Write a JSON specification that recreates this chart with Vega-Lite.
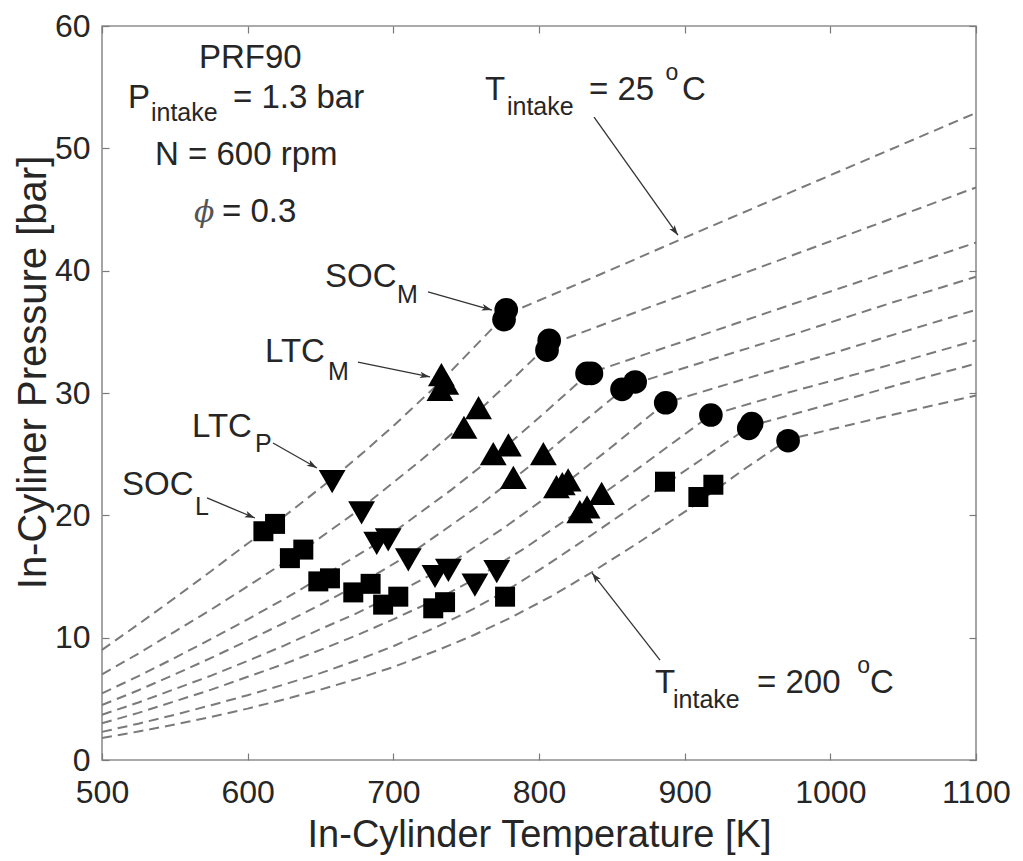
{
  "$schema": "https://vega.github.io/schema/vega-lite/v6.json",
  "width": 874,
  "height": 734,
  "autosize": {"type": "none"},
  "padding": {"left": 102, "top": 26, "right": 47, "bottom": 101},
  "background": "white",
  "config": {
    "view": {"stroke": "#8f8f8f", "strokeWidth": 1.6},
    "font": "Liberation Sans"
  },
  "datasets": {
    "curves": [
      {"curve": "25", "T": 500, "P": 9.0}, {"curve": "25", "T": 525, "P": 11.1}, {"curve": "25", "T": 550, "P": 13.25}, {"curve": "25", "T": 575, "P": 15.45}, {"curve": "25", "T": 600, "P": 17.7}, {"curve": "25", "T": 614, "P": 18.9}, {"curve": "25", "T": 640, "P": 21.3}, {"curve": "25", "T": 658, "P": 23.0}, {"curve": "25", "T": 680, "P": 25.2}, {"curve": "25", "T": 700, "P": 27.3}, {"curve": "25", "T": 734, "P": 31.1}, {"curve": "25", "T": 760, "P": 34.3}, {"curve": "25", "T": 777, "P": 36.4}, {"curve": "25", "T": 850, "P": 40.1}, {"curve": "25", "T": 900, "P": 42.7}, {"curve": "25", "T": 1000, "P": 47.8}, {"curve": "25", "T": 1100, "P": 52.9},
      {"curve": "50", "T": 500, "P": 7.0}, {"curve": "50", "T": 525, "P": 8.7}, {"curve": "50", "T": 550, "P": 10.5}, {"curve": "50", "T": 575, "P": 12.3}, {"curve": "50", "T": 600, "P": 14.2}, {"curve": "50", "T": 635, "P": 16.9}, {"curve": "50", "T": 677, "P": 20.5}, {"curve": "50", "T": 720, "P": 24.6}, {"curve": "50", "T": 760, "P": 28.7}, {"curve": "50", "T": 785, "P": 31.5}, {"curve": "50", "T": 806, "P": 33.9}, {"curve": "50", "T": 880, "P": 37.2}, {"curve": "50", "T": 950, "P": 40.2}, {"curve": "50", "T": 1025, "P": 43.5}, {"curve": "50", "T": 1100, "P": 46.8},
      {"curve": "75", "T": 500, "P": 5.45}, {"curve": "75", "T": 525, "P": 6.85}, {"curve": "75", "T": 550, "P": 8.35}, {"curve": "75", "T": 575, "P": 9.9}, {"curve": "75", "T": 600, "P": 11.5}, {"curve": "75", "T": 625, "P": 13.15}, {"curve": "75", "T": 650, "P": 14.9}, {"curve": "75", "T": 693, "P": 18.0}, {"curve": "75", "T": 740, "P": 22.1}, {"curve": "75", "T": 775, "P": 25.4}, {"curve": "75", "T": 805, "P": 28.5}, {"curve": "75", "T": 834, "P": 31.6}, {"curve": "75", "T": 900, "P": 34.25}, {"curve": "75", "T": 970, "P": 37.1}, {"curve": "75", "T": 1035, "P": 39.7}, {"curve": "75", "T": 1100, "P": 42.3},
      {"curve": "100", "T": 500, "P": 4.5}, {"curve": "100", "T": 525, "P": 5.7}, {"curve": "100", "T": 550, "P": 7.0}, {"curve": "100", "T": 575, "P": 8.35}, {"curve": "100", "T": 600, "P": 9.75}, {"curve": "100", "T": 625, "P": 11.2}, {"curve": "100", "T": 650, "P": 12.7}, {"curve": "100", "T": 677, "P": 14.4}, {"curve": "100", "T": 711, "P": 16.8}, {"curve": "100", "T": 735, "P": 18.8}, {"curve": "100", "T": 760, "P": 20.9}, {"curve": "100", "T": 803, "P": 24.9}, {"curve": "100", "T": 830, "P": 27.6}, {"curve": "100", "T": 861, "P": 30.6}, {"curve": "100", "T": 920, "P": 32.8}, {"curve": "100", "T": 980, "P": 35.0}, {"curve": "100", "T": 1040, "P": 37.3}, {"curve": "100", "T": 1100, "P": 39.5},
      {"curve": "125", "T": 500, "P": 3.7}, {"curve": "125", "T": 525, "P": 4.7}, {"curve": "125", "T": 550, "P": 5.8}, {"curve": "125", "T": 575, "P": 6.9}, {"curve": "125", "T": 600, "P": 8.1}, {"curve": "125", "T": 625, "P": 9.35}, {"curve": "125", "T": 650, "P": 10.7}, {"curve": "125", "T": 675, "P": 12.0}, {"curve": "125", "T": 697, "P": 13.3}, {"curve": "125", "T": 733, "P": 15.6}, {"curve": "125", "T": 775, "P": 18.9}, {"curve": "125", "T": 817, "P": 22.5}, {"curve": "125", "T": 850, "P": 25.6}, {"curve": "125", "T": 887, "P": 29.2}, {"curve": "125", "T": 940, "P": 31.1}, {"curve": "125", "T": 1000, "P": 33.2}, {"curve": "125", "T": 1050, "P": 35.0}, {"curve": "125", "T": 1100, "P": 36.8},
      {"curve": "150", "T": 500, "P": 3.0}, {"curve": "150", "T": 525, "P": 3.85}, {"curve": "150", "T": 550, "P": 4.8}, {"curve": "150", "T": 575, "P": 5.75}, {"curve": "150", "T": 600, "P": 6.8}, {"curve": "150", "T": 625, "P": 7.85}, {"curve": "150", "T": 650, "P": 9.0}, {"curve": "150", "T": 675, "P": 10.2}, {"curve": "150", "T": 700, "P": 11.5}, {"curve": "150", "T": 731, "P": 13.2}, {"curve": "150", "T": 756, "P": 14.8}, {"curve": "150", "T": 790, "P": 17.3}, {"curve": "150", "T": 828, "P": 20.4}, {"curve": "150", "T": 870, "P": 24.0}, {"curve": "150", "T": 918, "P": 28.2}, {"curve": "150", "T": 970, "P": 30.0}, {"curve": "150", "T": 1035, "P": 32.1}, {"curve": "150", "T": 1100, "P": 34.3},
      {"curve": "175", "T": 500, "P": 2.3}, {"curve": "175", "T": 525, "P": 2.97}, {"curve": "175", "T": 550, "P": 3.7}, {"curve": "175", "T": 575, "P": 4.48}, {"curve": "175", "T": 600, "P": 5.3}, {"curve": "175", "T": 625, "P": 6.17}, {"curve": "175", "T": 650, "P": 7.1}, {"curve": "175", "T": 675, "P": 8.15}, {"curve": "175", "T": 700, "P": 9.3}, {"curve": "175", "T": 732, "P": 11.0}, {"curve": "175", "T": 755, "P": 12.35}, {"curve": "175", "T": 777, "P": 13.8}, {"curve": "175", "T": 805, "P": 15.9}, {"curve": "175", "T": 835, "P": 18.3}, {"curve": "175", "T": 860, "P": 20.35}, {"curve": "175", "T": 885, "P": 22.4}, {"curve": "175", "T": 915, "P": 24.85}, {"curve": "175", "T": 945, "P": 27.3}, {"curve": "175", "T": 1000, "P": 29.1}, {"curve": "175", "T": 1050, "P": 30.8}, {"curve": "175", "T": 1100, "P": 32.4},
      {"curve": "200", "T": 500, "P": 1.8}, {"curve": "200", "T": 525, "P": 2.33}, {"curve": "200", "T": 550, "P": 2.9}, {"curve": "200", "T": 575, "P": 3.52}, {"curve": "200", "T": 600, "P": 4.2}, {"curve": "200", "T": 625, "P": 4.95}, {"curve": "200", "T": 650, "P": 5.75}, {"curve": "200", "T": 675, "P": 6.63}, {"curve": "200", "T": 700, "P": 7.6}, {"curve": "200", "T": 732, "P": 9.05}, {"curve": "200", "T": 755, "P": 10.2}, {"curve": "200", "T": 780, "P": 11.6}, {"curve": "200", "T": 808, "P": 13.35}, {"curve": "200", "T": 835, "P": 15.25}, {"curve": "200", "T": 870, "P": 17.9}, {"curve": "200", "T": 904, "P": 20.6}, {"curve": "200", "T": 940, "P": 23.7}, {"curve": "200", "T": 971, "P": 26.2}, {"curve": "200", "T": 1035, "P": 28.0}, {"curve": "200", "T": 1100, "P": 29.8}
    ],
    "markers": [
      {"type": "SOC_M", "T": 776, "P": 36.0}, {"type": "SOC_M", "T": 777.5, "P": 36.8}, {"type": "SOC_M", "T": 805.5, "P": 33.5}, {"type": "SOC_M", "T": 807, "P": 34.3}, {"type": "SOC_M", "T": 833, "P": 31.6}, {"type": "SOC_M", "T": 836, "P": 31.6}, {"type": "SOC_M", "T": 857, "P": 30.3}, {"type": "SOC_M", "T": 866, "P": 30.9}, {"type": "SOC_M", "T": 887, "P": 29.2}, {"type": "SOC_M", "T": 918, "P": 28.2}, {"type": "SOC_M", "T": 944, "P": 27.1}, {"type": "SOC_M", "T": 946, "P": 27.5}, {"type": "SOC_M", "T": 971, "P": 26.1},
      {"type": "LTC_M", "T": 733, "P": 31.5}, {"type": "LTC_M", "T": 736, "P": 30.8}, {"type": "LTC_M", "T": 732, "P": 30.3}, {"type": "LTC_M", "T": 758.5, "P": 28.8}, {"type": "LTC_M", "T": 748.5, "P": 27.2}, {"type": "LTC_M", "T": 768.6, "P": 25.05}, {"type": "LTC_M", "T": 779, "P": 25.75}, {"type": "LTC_M", "T": 803, "P": 25.05}, {"type": "LTC_M", "T": 782.4, "P": 23.1}, {"type": "LTC_M", "T": 812, "P": 22.35}, {"type": "LTC_M", "T": 816, "P": 22.6}, {"type": "LTC_M", "T": 820, "P": 22.9}, {"type": "LTC_M", "T": 828, "P": 20.3}, {"type": "LTC_M", "T": 833, "P": 20.7}, {"type": "LTC_M", "T": 843, "P": 21.8},
      {"type": "LTC_P", "T": 658, "P": 22.75}, {"type": "LTC_P", "T": 678.2, "P": 20.2}, {"type": "LTC_P", "T": 688.6, "P": 17.7}, {"type": "LTC_P", "T": 696.5, "P": 18.0}, {"type": "LTC_P", "T": 710.3, "P": 16.35}, {"type": "LTC_P", "T": 728.6, "P": 15.0}, {"type": "LTC_P", "T": 737.8, "P": 15.5}, {"type": "LTC_P", "T": 756, "P": 14.3}, {"type": "LTC_P", "T": 771, "P": 15.4},
      {"type": "SOC_L", "T": 610.8, "P": 18.7}, {"type": "SOC_L", "T": 618.8, "P": 19.3}, {"type": "SOC_L", "T": 629, "P": 16.5}, {"type": "SOC_L", "T": 638.2, "P": 17.2}, {"type": "SOC_L", "T": 648.5, "P": 14.6}, {"type": "SOC_L", "T": 656.5, "P": 14.85}, {"type": "SOC_L", "T": 672.5, "P": 13.7}, {"type": "SOC_L", "T": 684.4, "P": 14.4}, {"type": "SOC_L", "T": 693, "P": 12.7}, {"type": "SOC_L", "T": 703.4, "P": 13.35}, {"type": "SOC_L", "T": 727.4, "P": 12.4}, {"type": "SOC_L", "T": 735.5, "P": 12.9}, {"type": "SOC_L", "T": 776.7, "P": 13.35}, {"type": "SOC_L", "T": 886.5, "P": 22.75}, {"type": "SOC_L", "T": 909.4, "P": 21.5}, {"type": "SOC_L", "T": 919.7, "P": 22.5}
    ],
    "arrows": [
      {"name": "T25", "T": 837.8, "P": 52.56, "T2": 895.4, "P2": 42.9},
      {"name": "T200", "T": 883.1, "P": 8.17, "T2": 836.4, "P2": 15.29},
      {"name": "SOC_M", "T": 723.8, "P": 38.26, "T2": 767.7, "P2": 36.78},
      {"name": "LTC_M", "T": 675.7, "P": 32.53, "T2": 725.2, "P2": 31.31},
      {"name": "LTC_P", "T": 617.4, "P": 25.91, "T2": 647.6, "P2": 23.87},
      {"name": "SOC_L", "T": 572.1, "P": 21.42, "T2": 605.0, "P2": 19.78}
    ],
    "notes": [
      {"kind": "main", "label": "PRF90", "T": 566.6, "P": 56.57},
      {"kind": "main", "label": "P", "T": 517.8, "P": 53.3},
      {"kind": "sub", "label": "intake", "T": 533.6, "P": 52.24},
      {"kind": "main", "label": "= 1.3 bar", "T": 589.9, "P": 53.3},
      {"kind": "main", "label": "N = 600 rpm", "T": 536.4, "P": 48.64},
      {"kind": "phi", "label": "ϕ", "T": 563.2, "P": 43.98},
      {"kind": "main", "label": "= 0.3", "T": 582.4, "P": 43.98},
      {"kind": "main", "label": "T", "T": 762.9, "P": 53.95},
      {"kind": "sub", "label": "intake", "T": 778.0, "P": 52.72},
      {"kind": "main", "label": "= 25", "T": 834.3, "P": 53.95},
      {"kind": "sup", "label": "o", "T": 886.8, "P": 55.59},
      {"kind": "main", "label": "C", "T": 898.2, "P": 53.95},
      {"kind": "main", "label": "T", "T": 879.6, "P": 5.48},
      {"kind": "sub", "label": "intake", "T": 892.0, "P": 4.25},
      {"kind": "main", "label": "= 200", "T": 949.7, "P": 5.48},
      {"kind": "sup", "label": "o", "T": 1018.4, "P": 7.11},
      {"kind": "main", "label": "C", "T": 1027.2, "P": 5.48},
      {"kind": "main", "label": "SOC", "T": 653.1, "P": 38.66},
      {"kind": "sub", "label": "M", "T": 702.5, "P": 37.36},
      {"kind": "main", "label": "LTC", "T": 611.9, "P": 32.53},
      {"kind": "sub", "label": "M", "T": 655.1, "P": 31.06},
      {"kind": "main", "label": "LTC", "T": 561.8, "P": 26.4},
      {"kind": "sub", "label": "P", "T": 605.0, "P": 25.18},
      {"kind": "main", "label": "SOC", "T": 513.7, "P": 21.66},
      {"kind": "sub", "label": "L", "T": 563.8, "P": 20.03}
    ]
  },
  "resolve": {"axis": {"x": "independent", "y": "independent"}},
  "layer": [
    {
      "data": {"name": "curves"},
      "mark": {"type": "line", "color": "#7a7a7a", "strokeWidth": 2, "strokeDash": [10, 6], "interpolate": "linear"},
      "encoding": {
        "x": {"field": "T", "type": "quantitative",
          "scale": {"domain": [500, 1100], "nice": false, "zero": false},
          "axis": {"orient": "bottom", "values": [500, 600, 700, 800, 900, 1000, 1100], "format": "d", "grid": false, "domain": false,
            "tickSize": -7, "tickColor": "#7a7a7a", "tickWidth": 1.2,
            "labelFontSize": 32, "labelColor": "#262626", "labelPadding": 24.6, "labelFlush": false,
            "title": "In-Cylinder Temperature [K]", "titleFontSize": 38, "titleFontWeight": "normal", "titleColor": "#262626",
            "titleBaseline": "alphabetic", "titleY": 86}},
        "y": {"field": "P", "type": "quantitative",
          "scale": {"domain": [0, 60], "nice": false, "zero": false},
          "axis": {"orient": "left", "values": [0, 10, 20, 30, 40, 50, 60], "format": "d", "grid": false, "domain": false,
            "tickSize": -7, "tickColor": "#7a7a7a", "tickWidth": 1.2,
            "labelFontSize": 32, "labelColor": "#262626", "labelPadding": 19, "labelFlush": false,
            "title": "In-Cyliner Pressure [bar]", "titleFontSize": 40, "titleFontWeight": "normal", "titleColor": "#262626",
            "titleBaseline": "alphabetic", "titleX": -57, "titleY": 346}},
        "detail": {"field": "curve", "type": "nominal"}
      }
    },
    {
      "data": {"name": "curves"},
      "mark": {"type": "point", "opacity": 0},
      "encoding": {
        "x": {"field": "T", "type": "quantitative",
          "axis": {"orient": "top", "values": [500, 600, 700, 800, 900, 1000, 1100], "grid": false, "domain": false, "labels": false, "title": null,
            "tickSize": -7, "tickColor": "#7a7a7a", "tickWidth": 1.2}},
        "y": {"field": "P", "type": "quantitative",
          "axis": {"orient": "right", "values": [0, 10, 20, 30, 40, 50, 60], "grid": false, "domain": false, "labels": false, "title": null,
            "tickSize": -7, "tickColor": "#7a7a7a", "tickWidth": 1.2}}
      }
    },
    {
      "data": {"name": "markers"},
      "transform": [{"filter": "datum.type === 'SOC_M'"}],
      "mark": {"type": "point", "shape": "circle", "filled": true, "color": "black", "opacity": 1, "size": 560},
      "encoding": {
        "x": {"field": "T", "type": "quantitative", "axis": null},
        "y": {"field": "P", "type": "quantitative", "axis": null}
      }
    },
    {
      "data": {"name": "markers"},
      "transform": [{"filter": "datum.type === 'LTC_M'"}],
      "mark": {"type": "point", "shape": "triangle-up", "filled": true, "color": "black", "opacity": 1, "size": 720},
      "encoding": {
        "x": {"field": "T", "type": "quantitative", "axis": null},
        "y": {"field": "P", "type": "quantitative", "axis": null}
      }
    },
    {
      "data": {"name": "markers"},
      "transform": [{"filter": "datum.type === 'LTC_P'"}],
      "mark": {"type": "point", "shape": "triangle-down", "filled": true, "color": "black", "opacity": 1, "size": 720},
      "encoding": {
        "x": {"field": "T", "type": "quantitative", "axis": null},
        "y": {"field": "P", "type": "quantitative", "axis": null}
      }
    },
    {
      "data": {"name": "markers"},
      "transform": [{"filter": "datum.type === 'SOC_L'"}],
      "mark": {"type": "point", "shape": "square", "filled": true, "color": "black", "opacity": 1, "size": 400},
      "encoding": {
        "x": {"field": "T", "type": "quantitative", "axis": null},
        "y": {"field": "P", "type": "quantitative", "axis": null}
      }
    },
    {
      "data": {"name": "arrows"},
      "mark": {"type": "rule", "color": "#333333", "strokeWidth": 1.3},
      "encoding": {
        "x": {"field": "T", "type": "quantitative", "axis": null},
        "y": {"field": "P", "type": "quantitative", "axis": null},
        "x2": {"field": "T2"},
        "y2": {"field": "P2"}
      }
    },
    {
      "data": {"name": "arrows"},
      "mark": {"type": "point", "shape": "M0,0L0.55,1.7L0,1.3L-0.55,1.7Z", "filled": true, "color": "#333333", "opacity": 1, "size": 144},
      "encoding": {
        "x": {"field": "T2", "type": "quantitative", "axis": null},
        "y": {"field": "P2", "type": "quantitative", "axis": null},
        "angle": {"field": "name", "type": "nominal",
          "scale": {"type": "ordinal", "domain": ["T25", "T200", "SOC_M", "LTC_M", "LTC_P", "SOC_L"], "range": [143.9, 322.0, 105.7, 101.8, 119.6, 112.6]},
          "legend": null}
      }
    },
    {
      "data": {"name": "notes"},
      "transform": [{"filter": "datum.kind === 'main'"}],
      "mark": {"type": "text", "align": "left", "baseline": "alphabetic", "fontSize": 33, "font": "Liberation Sans", "color": "#262626"},
      "encoding": {
        "x": {"field": "T", "type": "quantitative", "axis": null},
        "y": {"field": "P", "type": "quantitative", "axis": null},
        "text": {"field": "label"}
      }
    },
    {
      "data": {"name": "notes"},
      "transform": [{"filter": "datum.kind === 'sub'"}],
      "mark": {"type": "text", "align": "left", "baseline": "alphabetic", "fontSize": 25, "font": "Liberation Sans", "color": "#262626"},
      "encoding": {
        "x": {"field": "T", "type": "quantitative", "axis": null},
        "y": {"field": "P", "type": "quantitative", "axis": null},
        "text": {"field": "label"}
      }
    },
    {
      "data": {"name": "notes"},
      "transform": [{"filter": "datum.kind === 'sup'"}],
      "mark": {"type": "text", "align": "left", "baseline": "alphabetic", "fontSize": 23, "font": "Liberation Sans", "color": "#262626"},
      "encoding": {
        "x": {"field": "T", "type": "quantitative", "axis": null},
        "y": {"field": "P", "type": "quantitative", "axis": null},
        "text": {"field": "label"}
      }
    },
    {
      "data": {"name": "notes"},
      "transform": [{"filter": "datum.kind === 'phi'"}],
      "mark": {"type": "text", "align": "left", "baseline": "alphabetic", "fontSize": 30, "font": "DejaVu Serif", "fontStyle": "italic", "color": "#555555"},
      "encoding": {
        "x": {"field": "T", "type": "quantitative", "axis": null},
        "y": {"field": "P", "type": "quantitative", "axis": null},
        "text": {"field": "label"}
      }
    }
  ]
}
